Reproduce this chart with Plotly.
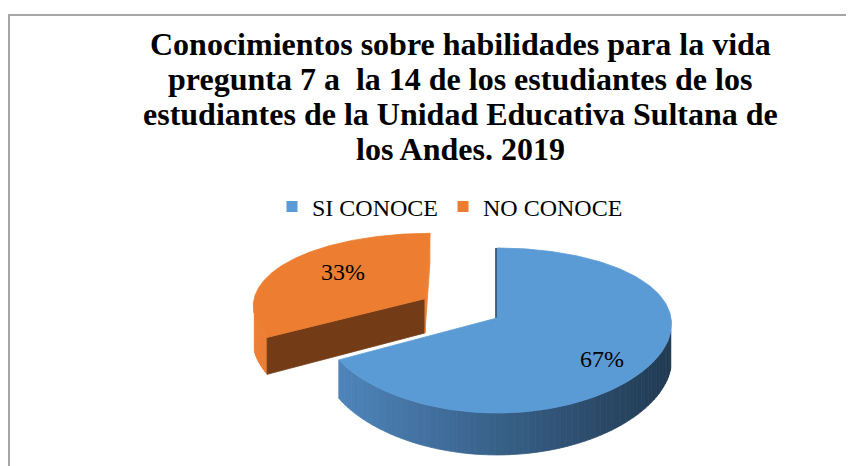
import numpy as np
import plotly.graph_objects as go

# ---------------- data ----------------
categories = ["SI CONOCE", "NO CONOCE"]
values = [67, 33]
title_lines = [
    "Conocimientos sobre habilidades para la vida",
    "pregunta 7 a \u00a0la 14 de los estudiantes de los",
    "estudiantes de la Unidad Educativa Sultana de",
    "los Andes. 2019",
]

# ---------------- style ----------------
W, H = 854, 466
OFF = 8                     # page body margin in the browser
FONT = "Times New Roman, Liberation Serif, Nimbus Roman, DejaVu Serif, serif"
top_colors = ["#5B9BD5", "#ED7D31"]
side_light = [(80, 136, 192), (236, 126, 52)]
side_dark = [(33, 58, 82), (214, 108, 40)]
start_face_colors = ["#22384F", "#733C17"]
end_face_colors = ["#22384F", "#E98236"]
explode = [0.0, 0.49]
label_r = [0.7, 0.6]
label_shift = [(-3, 11), (3, -5)]
title_y = [44, 79, 114, 149]
TITLE_X = 460
LEGEND_X = 272

CX, CY = 497, 318          # screen position of pie centre
A, B = 174, 80.6           # projected radii
KX, KY = 0.075, 0.1515     # perspective strength
DEPTH = 35.6               # thickness
CAM = (0.0, 1.0 / KY)      # camera location in pie plane


def proj(u, v, h=0.0):
    sx = 1.0 / (1.0 - KX * v)
    sy = 1.0 / (1.0 - KY * v)
    return CX + A * u * sx, CY + B * v * sy + DEPTH * h * sy


def poly(pts):
    xs = [p[0] for p in pts] + [pts[0][0]]
    ys = [p[1] for p in pts] + [pts[0][1]]
    return xs, ys


def rgb(c):
    return "rgb(%d,%d,%d)" % tuple(int(round(x)) for x in c)


def lerp(c1, c2, t):
    t = min(max(t, 0.0), 1.0)
    return tuple(a + (b - a) * t for a, b in zip(c1, c2))


fig = go.Figure()


def add_poly(pts, color):
    xs, ys = poly(pts)
    fig.add_trace(go.Scatter(x=xs, y=ys, mode="lines", fill="toself",
                             fillcolor=color, line=dict(color=color, width=0.8),
                             hoverinfo="skip", showlegend=False))


total = float(sum(values))
bounds = np.concatenate([[0.0], np.cumsum(values) / total * 360.0])

slices = []
for i, v in enumerate(values):
    t0, t1 = bounds[i], bounds[i + 1]
    mid = np.radians((t0 + t1) / 2)
    ou, ov = explode[i] * np.sin(mid), -explode[i] * np.cos(mid)
    slices.append((i, t0, t1, ou, ov))

# draw back-to-front
for i, t0, t1, ou, ov in sorted(slices, key=lambda s: s[4]):
    th = np.radians(np.linspace(t0, t1, max(int((t1 - t0) / 2), 8)))
    strips = []
    for a0, a1 in zip(th[:-1], th[1:]):
        am = (a0 + a1) / 2
        pu, pv = ou + np.sin(am), ov - np.cos(am)
        nrm = (np.sin(am), -np.cos(am))
        if nrm[0] * (CAM[0] - pu) + nrm[1] * (CAM[1] - pv) <= 0:
            continue
        pts = [proj(ou + np.sin(a0), ov - np.cos(a0)),
               proj(ou + np.sin(a1), ov - np.cos(a1)),
               proj(ou + np.sin(a1), ov - np.cos(a1), 1),
               proj(ou + np.sin(a0), ov - np.cos(a0), 1)]
        xm = proj(pu, pv)[0]
        t = (xm - (CX - A)) / (2 * A)
        strips.append((pv, pts, rgb(lerp(side_light[i], side_dark[i], t))))
    for _, pts, col in sorted(strips, key=lambda s: s[0]):
        add_poly(pts, col)
    for ang, nang, col in [(t0, t0 - 90, start_face_colors[i]),
                           (t1, t1 + 90, end_face_colors[i])]:
        a = np.radians(ang)
        n = np.radians(nang)
        pu, pv = ou + 0.5 * np.sin(a), ov - 0.5 * np.cos(a)
        vis = np.sin(n) * (CAM[0] - pu) + (-np.cos(n)) * (CAM[1] - pv)
        if vis < -1e-6:
            continue
        e0, e1 = proj(ou, ov), proj(ou + np.sin(a), ov - np.cos(a))
        if abs(vis) <= 1e-6:
            # face seen edge-on: thin dark rim along the edge
            fig.add_trace(go.Scatter(x=[e1[0], e0[0]], y=[e1[1], e0[1]], mode="lines",
                                     line=dict(color=col, width=3.5),
                                     hoverinfo="skip", showlegend=False))
            continue
        pts = [e0, e1, proj(ou + np.sin(a), ov - np.cos(a), 1), proj(ou, ov, 1)]
        add_poly(pts, col)
    pts = [proj(ou, ov)] + [proj(ou + np.sin(a), ov - np.cos(a)) for a in
                            np.radians(np.linspace(t0, t1, 200))]
    add_poly(pts, top_colors[i])

# data labels
for i, t0, t1, ou, ov in slices:
    mid = np.radians((t0 + t1) / 2)
    lx, ly = proj(ou + label_r[i] * np.sin(mid), ov - label_r[i] * np.cos(mid))
    fig.add_annotation(x=lx, y=ly, text=f"{values[i]}%", showarrow=False,
                       xshift=label_shift[i][0], yshift=-label_shift[i][1],
                       font=dict(family=FONT, size=24, color="#000000"))

# legend entries
for i, c in enumerate(categories):
    fig.add_trace(go.Scatter(x=[None], y=[None], mode="markers", name=c,
                             marker=dict(symbol="square", size=11, color=top_colors[i])))

# title
for ty, line in zip(title_y, title_lines):
    fig.add_annotation(x=TITLE_X, y=ty, text=f"<b>{line}</b>", showarrow=False,
                       font=dict(family=FONT, size=32, color="#000000"))

# chart frame
fig.add_shape(type="rect", x0=9, y0=15, x1=W + 40, y1=H + 40, xref="x", yref="y",
              line=dict(color="#A6A6A6", width=2), layer="below")

fig.update_layout(
    width=W, height=H, margin=dict(l=0, r=0, t=0, b=0),
    paper_bgcolor="white", plot_bgcolor="white",
    xaxis=dict(range=[OFF, W + OFF], visible=False, fixedrange=True),
    yaxis=dict(range=[H + OFF, OFF], visible=False, fixedrange=True),
    showlegend=True,
    legend=dict(orientation="h", x=(LEGEND_X - OFF) / W, xanchor="left",
                y=1 - (207 - OFF) / H, yanchor="middle",
                font=dict(family=FONT, size=24, color="#000000"),
                bgcolor="rgba(0,0,0,0)"),
)

fig.write_html("out.html")
